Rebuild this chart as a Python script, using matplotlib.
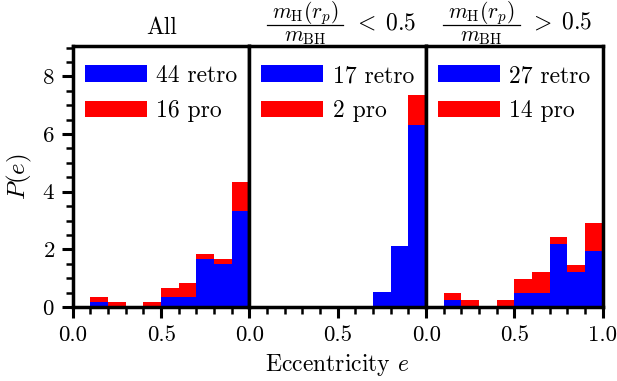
import matplotlib
matplotlib.use("Agg")
import matplotlib.pyplot as plt
import matplotlib.transforms as mtransforms
from matplotlib.lines import Line2D
import numpy as np

plt.rcParams['font.family'] = 'serif'
plt.rcParams['font.serif'] = ['cmr10']
plt.rcParams['mathtext.fontset'] = 'cm'
plt.rcParams['axes.formatter.use_mathtext'] = True

# conteos por bin de excentricidad (ancho 0.1, de 0 a 1)
bordes = np.linspace(0, 1, 11)
retro_todos = [0, 1, 0, 0, 0, 2, 2, 10, 9, 20]
pro_todos = [0, 1, 1, 0, 1, 2, 3, 1, 1, 6]
retro_bajo = [0, 0, 0, 0, 0, 0, 0, 1, 4, 12]
pro_bajo = [0, 0, 0, 0, 0, 0, 0, 0, 0, 2]
retro_alto = [0, 1, 0, 0, 0, 2, 2, 9, 5, 8]
pro_alto = [0, 1, 1, 0, 1, 2, 3, 1, 1, 4]

numerador = r'$m_{\rm H}(r_p)$'
denominador = r'$m_{\rm BH}$'
condiciones = [None, r'$<\;0.5$', r'$>\;0.5$']
casos = [(retro_todos, pro_todos), (retro_bajo, pro_bajo), (retro_alto, pro_alto)]

fig, axs = plt.subplots(1, 3, figsize=(6.17, 3.81), dpi=100, sharey=True)
fig.subplots_adjust(left=0.118, right=0.977, top=0.879, bottom=0.194, wspace=0)

def yfig(px):
    return 1 - px / 381

for i, (ax, (retro, pro)) in enumerate(zip(axs, casos)):
    retro = np.array(retro)
    pro = np.array(pro)
    total = retro.sum() + pro.sum()
    ancho = np.diff(bordes)
    # normalizamos como densidad sobre el total
    h_retro = retro / (total * ancho)
    h_pro = pro / (total * ancho)
    ax.bar(bordes[:-1], h_retro, width=ancho, align='edge', color='blue',
           label='%d retro' % retro.sum())
    ax.bar(bordes[:-1], h_pro, width=ancho, bottom=h_retro, align='edge', color='red',
           label='%d pro' % pro.sum())
    ax.set_xlim(0, 1)
    ax.set_ylim(0, 9.05)
    if i == 0:
        ax.set_title('All', fontsize=17, pad=9)
    else:
        # titulo armado a mano: numerador, barra, denominador y condicion
        tr = mtransforms.blended_transform_factory(ax.transAxes, fig.transFigure)
        ax.text(0.314, yfig(13), numerador, transform=tr, fontsize=15.5,
                ha='center', va='center')
        ax.text(0.314, yfig(37), denominador, transform=tr, fontsize=15.5,
                ha='center', va='center')
        ax.add_artist(Line2D([0.097, 0.531], [yfig(25), yfig(25)], transform=tr,
                             color='black', lw=0.9, clip_on=False))
        ax.text(0.585, yfig(23), condiciones[i], transform=tr, fontsize=17,
                ha='left', va='center')
    if i < 2:
        ax.set_xticks([0, 0.5])
    else:
        ax.set_xticks([0, 0.5, 1.0])
    ax.set_xticklabels(['%.1f' % t for t in ax.get_xticks()])
    ax.set_xticks(np.arange(0, 1.01, 0.1), minor=True)
    ax.set_yticks([0, 2, 4, 6, 8])
    ax.set_yticks(np.arange(0, 9.01, 0.5), minor=True)
    ax.tick_params(which='major', length=8, width=2.2, labelsize=16.5, direction='out', pad=5)
    ax.tick_params(which='minor', length=5, width=1.8, direction='out')
    if i > 0:
        ax.tick_params(axis='y', which='both', left=False, labelleft=False)
    for s in ax.spines.values():
        s.set_linewidth(2.5)
    ax.legend(loc='upper left', bbox_to_anchor=(0.0, 0.973), frameon=False,
              fontsize=17, handlelength=2.63, handleheight=0.72, handletextpad=0.4,
              labelspacing=0.55, borderaxespad=0.0, borderpad=0.5)

axs[0].set_ylabel('$P(e)$', fontsize=18, labelpad=6)
fig.text(0.547, 0.025, 'Eccentricity $e$', ha='center', fontsize=17)

plt.savefig('out.png', dpi=100)
